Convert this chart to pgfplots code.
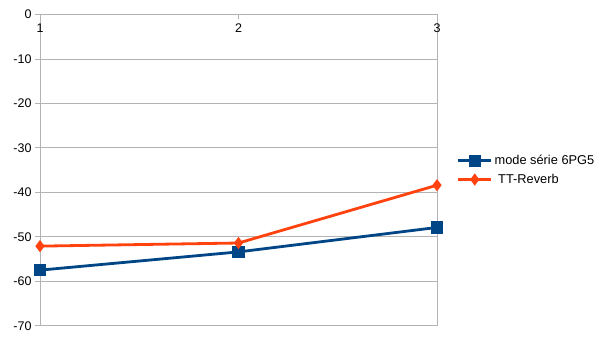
\documentclass[border=0pt]{standalone}
\usepackage{fontspec}
\setmainfont{Liberation Sans}
\usepackage{pgfplots}
\pgfplotsset{compat=1.18}
\definecolor{lblue}{HTML}{004586}
\definecolor{lorange}{HTML}{FF420E}
\definecolor{gridgray}{HTML}{B3B3B3}
\begin{document}
\begin{tikzpicture}
\useasboundingbox (0,0) rectangle (605bp,340bp);
\begin{axis}[
  at={(40bp,14.3bp)}, anchor=south west,
  width=397bp, height=311.2bp, scale only axis,
  xmin=1, xmax=3, ymin=-70, ymax=0,
  xtick={1,2,3}, xticklabels={1,2,3},
  ytick={-70,-60,-50,-40,-30,-20,-10,0},
  yticklabels={-70,-60,-50,-40,-30,-20,-10,0},
  xtick pos=upper, ytick pos=left,
  xticklabel pos=upper,
  tick align=inside,
  major tick length=4.5bp,
  ytick style={xshift=-4.5bp},
  tick style={gridgray, line width=0.8bp},
  ymajorgrids,
  grid style={gridgray, line width=0.8bp},
  axis line style={gridgray, line width=0.8bp},
  every tick label/.append style={font=\fontsize{12.5bp}{15bp}\selectfont, text=black},
  xticklabel style={anchor=north, yshift=-6bp},
  yticklabel style={anchor=east, xshift=-5bp},
  legend style={draw=none, fill=none, at={(1.05,0.5)}, anchor=west,
    font=\fontsize{12.8bp}{15bp}\selectfont, row sep=4bp,
    inner sep=0pt, outer sep=0pt},
  legend cell align=left,
  legend image code/.code={%
    \draw[#1, mark repeat=2, mark phase=2] plot coordinates {(0bp,0bp) (16.5bp,0bp) (33bp,0bp)};},
]
\addplot[lblue, line width=2.8bp, mark=square*, mark size=4.8bp, mark options={solid}]
  coordinates {(1,-57.5) (2,-53.4) (3,-47.9)};
\addlegendentry{mode série 6PG5}
\addplot[lorange, line width=2.8bp, mark=diamond*, mark size=3.8bp, mark options={solid}]
  coordinates {(1,-52.1) (2,-51.4) (3,-38.4)};
\addlegendentry{\ TT-Reverb}
\end{axis}
\end{tikzpicture}
\end{document}
